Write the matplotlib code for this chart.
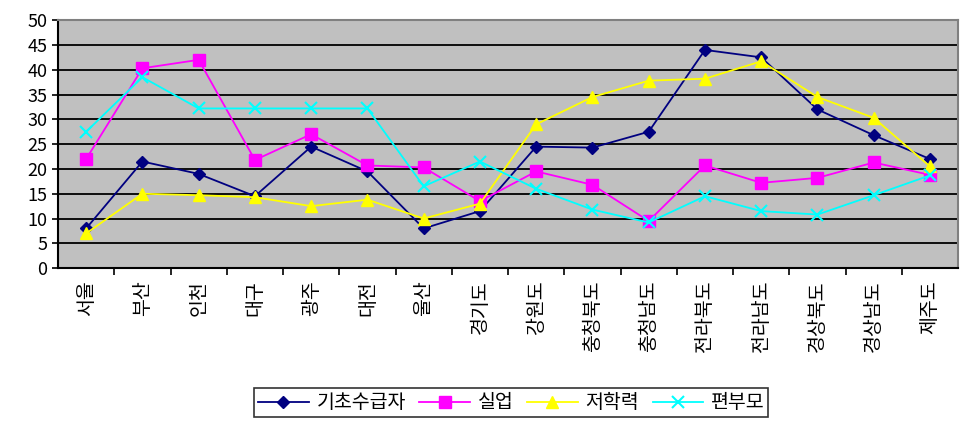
import numpy as np
import matplotlib
matplotlib.use("Agg")
import matplotlib.pyplot as plt

plt.rcParams['font.family'] = ['Noto Sans CJK KR', 'DejaVu Sans']

regions = ['서울', '부산', '인천', '대구', '광주', '대전', '울산', '경기도',
           '강원도', '충청북도', '충청남도', '전라북도', '전라남도', '경상북도', '경상남도', '제주도']
basic = [8, 21.5, 19, 14.5, 24.5, 19.5, 8, 11.5, 24.5, 24.3, 27.5, 44, 42.5, 32, 26.8, 22]
unemp = [22, 40.3, 42, 21.8, 27, 20.7, 20.3, 13.5, 19.5, 16.8, 9.5, 20.7, 17.2, 18.2, 21.3, 18.8]
lowedu = [7, 15, 14.7, 14.3, 12.5, 13.8, 10, 13, 29, 34.5, 37.8, 38.2, 41.7, 34.5, 30.3, 20.5]
single = [27.5, 38.5, 32.2, 32.2, 32.2, 32.2, 16.5, 21.5, 16, 11.8, 9.2, 14.5, 11.5, 10.8, 14.7, 18.7]

fig = plt.figure(figsize=(9.72, 4.29), dpi=100)
ax = fig.add_axes([0.0597, 0.375, 0.926, 0.578])
ax.set_facecolor('#c0c0c0')

x = np.arange(len(regions))
ax.plot(x, basic, color='#000080', marker='D', markersize=6, lw=1.3, label='기초수급자')
ax.plot(x, unemp, color='#ff00ff', marker='s', markersize=8, lw=1.3, label='실업')
ax.plot(x, lowedu, color='#ffff00', marker='^', markersize=9, lw=1.3, label='저학력')
ax.plot(x, single, color='#00ffff', marker='x', markersize=8, mew=1.5, lw=1.3, label='편부모')

ax.set_ylim(0, 50)
ax.set_yticks(range(0, 51, 5))
ax.set_xlim(-0.5, len(regions) - 0.5)
ax.set_xticks(x)
ax.set_xticklabels(regions, rotation=90, fontsize=14)
ax.set_xticks(np.arange(0.5, len(regions) - 0.5, 1), minor=True)
ax.tick_params(axis='x', which='major', length=0, pad=9)
ax.tick_params(axis='x', which='minor', length=5, width=1.2, direction='out')
ax.tick_params(axis='y', labelsize=13, length=4, width=1.2)
ax.yaxis.grid(True, color='black', lw=1.3)
ax.set_axisbelow(True)
for s in ['left', 'bottom']:
    ax.spines[s].set_color('black')
    ax.spines[s].set_linewidth(1.5)
for s in ['top', 'right']:
    ax.spines[s].set_color('#808080')
    ax.spines[s].set_linewidth(1.5)

leg = fig.legend(loc='center', bbox_to_anchor=(0.526, 0.061), ncol=4, fontsize=14,
                 frameon=True, fancybox=False, edgecolor='black', handlelength=2.6,
                 columnspacing=0.7, handletextpad=0.4, borderpad=0.2)
leg.get_frame().set_linewidth(1.2)

fig.savefig('out.png', dpi=100)
